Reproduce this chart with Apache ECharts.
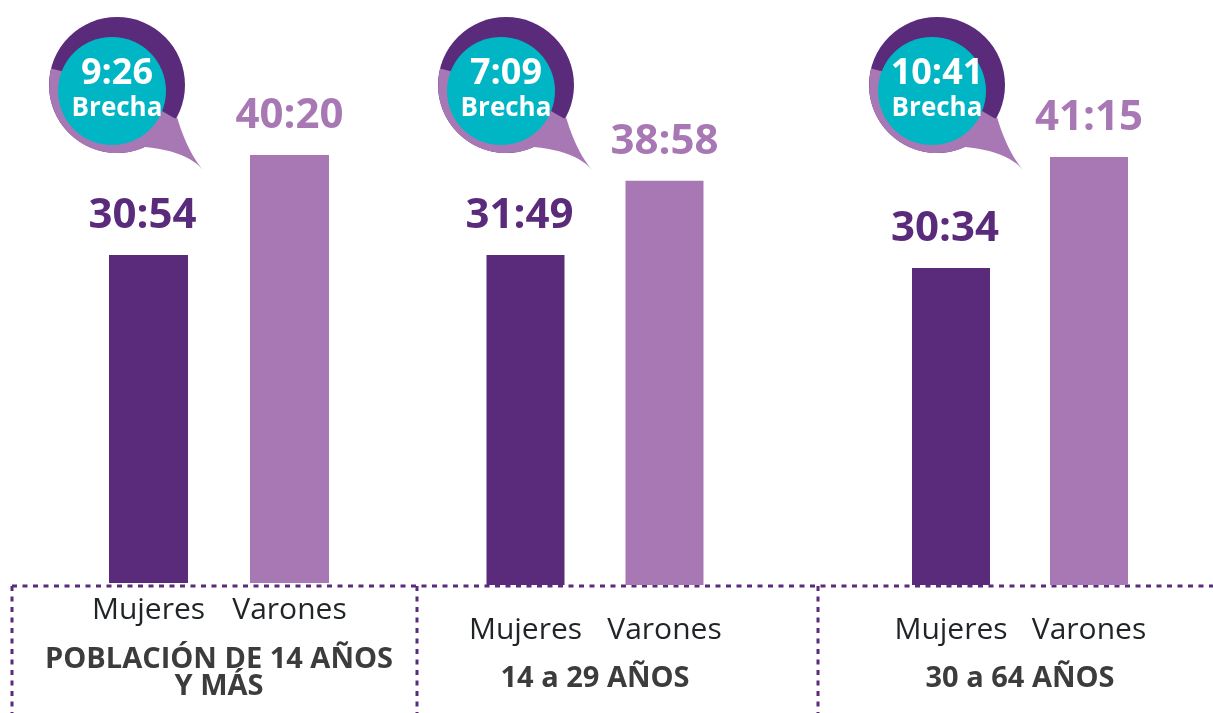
<!DOCTYPE html>
<html>
<head>
<meta charset="utf-8">
<script src="https://cdn.jsdelivr.net/npm/echarts@6/dist/echarts.min.js"></script>
<style>
  html, body { margin: 0; padding: 0; background: #fff; }
  #main { width: 1213px; height: 713px; }
</style>
</head>
<body>
<div id="main"></div>
<script>
// datos (horas:minutos)
const grupos = ['POBLACIÓN DE 14 AÑOS\nY MÁS', '14 a 29 AÑOS', '30 a 64 AÑOS'];
const sexos = ['Mujeres', 'Varones'];
const mujeres = ['30:54', '31:49', '30:34'];
const varones = ['40:20', '38:58', '41:15'];
const brecha = ['9:26', '7:09', '10:41'];

const colorMuj = '#5a2a7b';
const colorVar = '#a878b4';
const colorBrecha = '#00b6c4';
const fuente = '"Open Sans", sans-serif';

// pasa "hh:mm" a horas decimales
function aHoras(t) {
  let p = t.split(':');
  return parseInt(p[0]) + parseInt(p[1]) / 60;
}

// puntos de una curva cuadratica (para la cola del globo)
function curva(p0, c, p1) {
  let pts = [];
  for (let k = 0; k <= 12; k++) {
    let t = k / 12;
    pts.push([
      (1 - t) * (1 - t) * p0[0] + 2 * (1 - t) * t * c[0] + t * t * p1[0],
      (1 - t) * (1 - t) * p0[1] + 2 * (1 - t) * t * c[1] + t * t * p1[1]
    ]);
  }
  return pts;
}

var chart = echarts.init(document.getElementById('main'));

// cada grupo va en su propia grilla
var grillas = [
  { left: 78, width: 282, top: 114, bottom: 130, max: 44.2, bw: 79, margin: 12, gap: 63 },
  { left: 456, width: 278, top: 114, bottom: 128, max: 45.4, bw: 78, margin: 30, gap: 80 },
  { left: 882, width: 276, top: 114, bottom: 128, max: 45.4, bw: 78, margin: 30, gap: 80 }
];

var grid = [], xAxis = [], yAxis = [], series = [];
grillas.forEach((g, i) => {
  grid.push({ left: g.left, width: g.width, top: g.top, bottom: g.bottom });
  xAxis.push({
    type: 'category',
    gridIndex: i,
    data: sexos,
    axisLine: { show: false },
    axisTick: { show: false },
    axisLabel: { interval: 0, fontFamily: fuente, fontSize: 30, color: '#1f2426', margin: g.margin },
    name: grupos[i],
    nameLocation: 'middle',
    nameGap: g.gap,
    nameTextStyle: { fontFamily: fuente, fontSize: 29, fontWeight: 'bold', color: '#3c3c3c', lineHeight: 27, verticalAlign: 'top' }
  });
  yAxis.push({ type: 'value', gridIndex: i, min: 0, max: g.max, show: false });
  series.push({
    type: 'bar',
    xAxisIndex: i,
    yAxisIndex: i,
    barWidth: g.bw,
    data: [
      { value: aHoras(mujeres[i]), itemStyle: { color: colorMuj }, label: { color: colorMuj, formatter: mujeres[i], offset: [-6, 0] } },
      { value: aHoras(varones[i]), itemStyle: { color: colorVar }, label: { color: colorVar, formatter: varones[i] } }
    ],
    label: {
      show: true,
      position: 'top',
      distance: 18,
      fontFamily: fuente,
      fontSize: 42,
      fontWeight: 'bold'
    },
    animation: false
  });
});

// globos de la brecha
var centrosGlobo = [117, 506, 937];
var graficos = [];
centrosGlobo.forEach((cx, i) => {
  let cy = 85;
  graficos.push({ type: 'circle', shape: { cx: cx, cy: cy, r: 68 }, style: { fill: colorMuj } });
  graficos.push({
    type: 'sector',
    shape: { cx: cx, cy: cy, r0: 0, r: 68, startAngle: 30 * Math.PI / 180, endAngle: 194 * Math.PI / 180 },
    style: { fill: colorVar }
  });
  let cola = curva([cx + 28, cy + 62], [cx + 70, cy + 66], [cx + 86, cy + 85])
    .concat(curva([cx + 86, cy + 85], [cx + 70, cy + 66], [cx + 60, cy + 32]));
  graficos.push({ type: 'polygon', shape: { points: cola }, style: { fill: colorVar } });
  graficos.push({ type: 'circle', shape: { cx: cx - 5, cy: cy + 6, r: 54 }, style: { fill: colorBrecha } });
  graficos.push({
    type: 'text', x: cx, y: 74,
    style: { text: brecha[i], fill: '#fff', font: 'bold 36px ' + fuente, align: 'center', verticalAlign: 'middle' }
  });
  graficos.push({
    type: 'text', x: cx, y: 109,
    style: { text: 'Brecha', fill: '#fff', font: 'bold 26px ' + fuente, align: 'center', verticalAlign: 'middle' }
  });
});

// lineas punteadas de la caja inferior
var punteado = { stroke: colorMuj, lineWidth: 3, lineDash: [5, 5.5] };
graficos.push({ type: 'line', shape: { x1: 12, y1: 586, x2: 1213, y2: 586 }, style: punteado });
[12, 417, 818].forEach(x => {
  graficos.push({ type: 'line', shape: { x1: x, y1: 586, x2: x, y2: 713 }, style: punteado });
});

var option = {
  animation: false,
  grid: grid,
  xAxis: xAxis,
  yAxis: yAxis,
  series: series,
  graphic: graficos
};
chart.setOption(option);
</script>
</body>
</html>
